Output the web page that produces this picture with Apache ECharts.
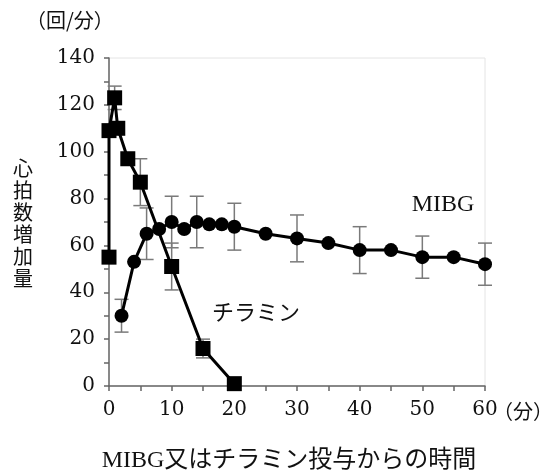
<!DOCTYPE html>
<html>
<head>
<meta charset="utf-8">
<script src="https://cdn.jsdelivr.net/npm/echarts@6/dist/echarts.min.js"></script>
<style>
  html, body { margin: 0; padding: 0; background: #fff; }
  #chart { width: 553px; height: 472px; }
</style>
</head>
<body>
<div id="chart"></div>
<script>
// Heart-rate increase (beats/min) after MIBG or tyramine administration
const chiraminTime = [0, 0, 0.9, 1.4, 3, 5, 10, 15, 20];
const chiraminRate = [55, 109, 123, 110, 97, 87, 51, 16, 1];
const chiraminErr  = [0, 0, 5, 0, 0, 10, 10, 4, 0];

const mibgTime = [2, 4, 6, 8, 10, 12, 14, 16, 18, 20, 25, 30, 35, 40, 45, 50, 55, 60];
const mibgRate = [30, 53, 65, 67, 70, 67, 70, 69, 69, 68, 65, 63, 61, 58, 58, 55, 55, 52];
const mibgErr  = [7, 0, 11, 0, 11, 0, 11, 0, 0, 10, 0, 10, 0, 10, 0, 9, 0, 9];

const numFont = "'DejaVu Serif', serif";
const serif = "'Liberation Serif', 'Noto Sans CJK JP', serif";
const cjk = "'Noto Sans CJK JP', sans-serif";

function pairs(xs, ys) { return xs.map((x, i) => [x, ys[i]]); }

function errorBars(xs, ys, errs) {
  const data = [];
  xs.forEach((x, i) => { if (errs[i] > 0) data.push([x, ys[i] - errs[i], ys[i] + errs[i]]); });
  return {
    type: 'custom',
    data: data,
    encode: { x: 0, y: [1, 2] },
    silent: true,
    clip: false,
    z: 1,
    renderItem: function (params, api) {
      const lo = api.coord([api.value(0), api.value(1)]);
      const hi = api.coord([api.value(0), api.value(2)]);
      const w = 7;
      const style = { stroke: '#7a7a7a', lineWidth: 1.5 };
      return {
        type: 'group',
        children: [
          { type: 'line', shape: { x1: lo[0], y1: lo[1], x2: hi[0], y2: hi[1] }, style: style },
          { type: 'line', shape: { x1: lo[0] - w, y1: lo[1], x2: lo[0] + w, y2: lo[1] }, style: style },
          { type: 'line', shape: { x1: hi[0] - w, y1: hi[1], x2: hi[0] + w, y2: hi[1] }, style: style }
        ]
      };
    }
  };
}

const axisLine = { lineStyle: { color: '#666', width: 1.5 } };

const chart = echarts.init(document.getElementById('chart'));
chart.setOption({
  animation: false,
  backgroundColor: '#fff',
  grid: { left: 109, right: 68, top: 58, bottom: 86, show: true, borderColor: '#e4e4e4', borderWidth: 1 },
  xAxis: {
    type: 'value', min: 0, max: 60, interval: 10,
    axisLine: axisLine,
    axisTick: { show: true, length: 5, lineStyle: { color: '#666', width: 1.5 } },
    minorTick: { show: true, splitNumber: 2, length: 5, lineStyle: { color: '#666', width: 1.5 } },
    splitLine: { show: false },
    axisLabel: { fontFamily: numFont, fontSize: 20, color: '#111', margin: 14 }
  },
  yAxis: {
    type: 'value', min: 0, max: 140, interval: 20,
    axisLine: axisLine,
    axisTick: { show: true, length: 5, lineStyle: { color: '#666', width: 1.5 } },
    minorTick: { show: true, splitNumber: 2, length: 5, lineStyle: { color: '#666', width: 1.5 } },
    splitLine: { show: false },
    axisLabel: { fontFamily: numFont, fontSize: 20, color: '#111', margin: 14 }
  },
  series: [
    errorBars(mibgTime, mibgRate, mibgErr),
    errorBars(chiraminTime, chiraminRate, chiraminErr),
    {
      name: 'MIBG', type: 'line', data: pairs(mibgTime, mibgRate),
      symbol: 'circle', symbolSize: 14, clip: false, z: 3,
      lineStyle: { color: '#000', width: 3 },
      itemStyle: { color: '#000' }
    },
    {
      name: 'チラミン', type: 'line', data: pairs(chiraminTime, chiraminRate),
      symbol: 'rect', symbolSize: 15, clip: false, z: 4,
      lineStyle: { color: '#000', width: 3 },
      itemStyle: { color: '#000' }
    }
  ],
  graphic: [
    { type: 'text', left: 26, top: 10, style: { text: '（回/分）', font: '20px ' + cjk, fill: '#111' } },
    { type: 'text', x: 23, y: 223, style: { text: '心\n拍\n数\n増\n加\n量', font: '20px ' + cjk, lineHeight: 22, align: 'center', verticalAlign: 'middle', fill: '#111' } },
    { type: 'text', x: 493, y: 411, style: { text: '（分）', font: '20px ' + cjk, align: 'left', verticalAlign: 'middle', fill: '#111' } },
    { type: 'text', x: 289, y: 461, style: { text: 'MIBG又はチラミン投与からの時間', font: '24px ' + serif, align: 'center', verticalAlign: 'middle', fill: '#111' } },
    { type: 'text', x: 443, y: 205, style: { text: 'MIBG', font: '24px ' + serif, align: 'center', verticalAlign: 'middle', fill: '#111' } },
    { type: 'text', x: 256, y: 312, style: { text: 'チラミン', font: '22px ' + cjk, align: 'center', verticalAlign: 'middle', fill: '#111' } }
  ]
});
</script>
</body>
</html>
